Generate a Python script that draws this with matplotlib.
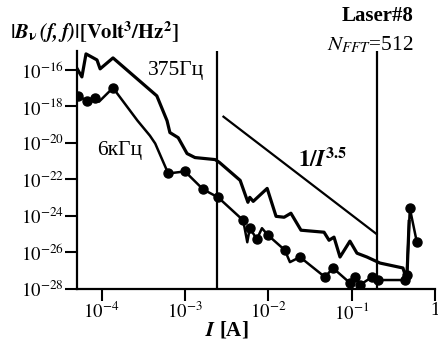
import numpy as np
import matplotlib
matplotlib.use("Agg")
import matplotlib.pyplot as plt

plt.rcParams['font.family'] = ['Liberation Serif', 'DejaVu Serif']
plt.rcParams['mathtext.fontset'] = 'stix'
plt.rcParams['font.size'] = 13

# 375 Hz curve (no markers)
i_375 = [5.1e-5, 5.8e-5, 6.5e-5, 8.8e-5, 9.6e-5, 1.37e-4, 4.6e-4, 6.1e-4,
         6.6e-4, 8.3e-4, 1.06e-3, 1.32e-3, 2.3e-3, 2.6e-3, 4.6e-3, 5.7e-3,
         6.0e-3, 6.6e-3, 9.7e-3, 0.0124, 0.0155, 0.0187, 0.0247, 0.0467,
         0.0536, 0.0615, 0.0726, 0.0955, 0.116, 0.153, 0.219, 0.413, 0.46, 0.49]
b_375 = [-15.94, -16.38, -15.12, -15.45, -15.94, -15.34, -17.42, -18.78,
         -19.43, -19.71, -20.58, -20.80, -20.91, -21.07, -22.05, -23.25,
         -22.98, -23.20, -22.49, -24.02, -24.07, -23.85, -24.78, -24.89,
         -25.33, -25.16, -26.25, -25.38, -26.04, -26.25, -26.58, -26.85, -27.51, -24.3]

# 6 kHz curve (with markers)
i_6k = [5.2e-5, 6.7e-5, 8.4e-5, 9.3e-5, 1.37e-4, 2.7e-4, 3.8e-4, 4.4e-4,
        6.3e-4, 1.0e-3, 1.65e-3, 2.5e-3, 5.0e-3, 5.6e-3, 6.0e-3, 7.3e-3,
        8.4e-3, 9.9e-3, 0.0158, 0.0182, 0.024, 0.048, 0.0597, 0.0955,
        0.11, 0.126, 0.175, 0.207, 0.436, 0.46, 0.50, 0.607]
b_6k = [-17.42, -17.69, -17.53, -17.74, -16.98, -18.78, -19.6, -20.03,
        -21.67, -21.56, -22.54, -22.98, -24.24, -25.44, -24.67, -25.27,
        -24.67, -25.05, -25.87, -26.53, -26.25, -27.35, -26.85, -27.67,
        -27.35, -27.78, -27.35, -27.51, -27.51, -27.24, -23.58, -25.44]
mark_6k = [0, 1, 2, 4, 8, 9, 10, 11, 12, 14, 15, 17, 18, 20, 21, 22, 23,
           24, 25, 26, 27, 28, 29, 30, 31]

# guide line 1/I^3.5
i_fit = [2.9e-3, 0.2]
fit_b0 = -18.56
vlines = [2.4e-3, 0.2]

fig = plt.figure(figsize=(4.38, 3.49), dpi=100)
ax = fig.add_axes([0.176, 0.172, 0.817, 0.682])

ax.plot(i_375, 10.0 ** np.array(b_375), color='k', lw=2.3)
ax.plot(i_6k, 10.0 ** np.array(b_6k), color='k', lw=1.8,
        marker='o', ms=6.5, markevery=mark_6k)
fi = np.array(i_fit)
ax.plot(fi, 10.0 ** (fit_b0 - 3.5 * np.log10(fi / fi[0])), color='k', lw=1.6)
for v in vlines:
    ax.axvline(v, color='k', lw=1.6)

ax.set_xscale('log')
ax.set_yscale('log')
ax.set_xlim(5.08e-5, 1.0)
ax.set_ylim(1e-28, 1.1e-15)
ax.set_xticks([1e-4, 1e-3, 1e-2, 1e-1, 1])
ax.set_xticklabels([r'$10^{-4}$', r'$10^{-3}$', r'$10^{-2}$', r'$10^{-1}$', '1'])
yt = [-28, -26, -24, -22, -20, -18, -16]
ax.set_yticks([10.0 ** t for t in yt])
ax.set_yticklabels([r'$10^{%d}$' % t for t in yt])
ax.minorticks_off()
ax.tick_params(direction='out', length=8.5, width=1.5, pad=1, labelsize=13.5)
for s in ['top', 'right']:
    ax.spines[s].set_visible(False)
for s in ['left', 'bottom']:
    ax.spines[s].set_linewidth(1.6)

ax.text(3.6e-4, 10 ** -16.05, '375Гц', ha='left', va='center', fontsize=15.5)
ax.text(8.8e-5, 10 ** -20.42, '6кГц', ha='left', va='center', fontsize=15.5)
ax.text(0.044, 10 ** -20.96, r'$\mathbf{1/}\mathbfit{I}^{\mathbf{3.5}}$',
        ha='center', va='center', fontsize=16.5)

fig.text(0.023, 0.908,
         r'$\mathbf{|}\mathbfit{B}_{\mathbf{\nu}}\,\mathbfit{(f,f)}\mathbf{|[Volt}^{\mathbf{3}}\mathbf{/Hz}^{\mathbf{2}}\mathbf{]}$',
         ha='left', va='center', fontsize=14.8)
fig.text(0.945, 0.955, 'Laser#8', ha='right', va='center',
         fontsize=15, fontweight='bold')
fig.text(0.945, 0.871, r'$N_{FFT}$=512', ha='right', va='center', fontsize=15.3)
fig.text(0.518, 0.054, r'$\mathbfit{I}$ [A]', ha='center', va='center',
         fontsize=15, fontweight='bold')

fig.savefig('out.png', dpi=100)
